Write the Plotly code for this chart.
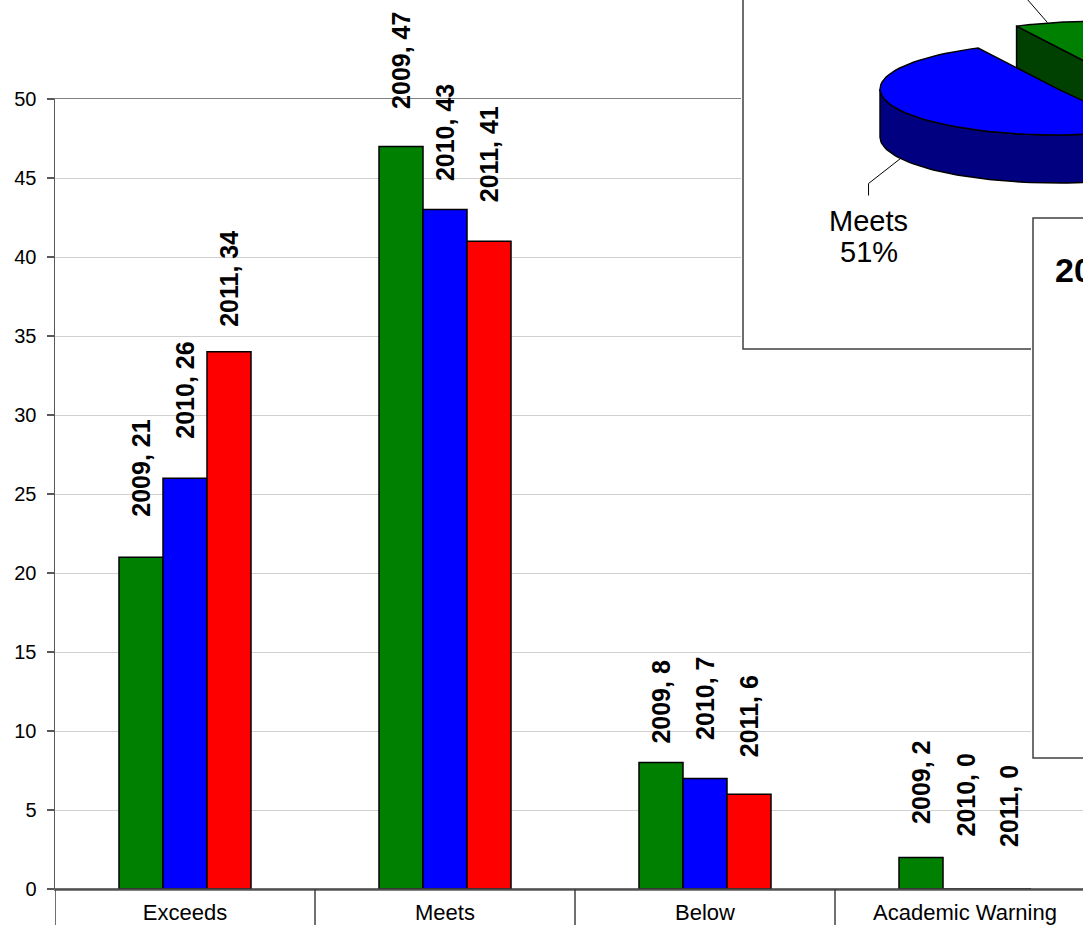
import math
import plotly.graph_objects as go

# ---------------- data ----------------
categories = ["Exceeds", "Meets", "Below", "Academic Warning"]
years = ["2009", "2010", "2011"]
values_2009 = [21, 47, 8, 2]
values_2010 = [26, 43, 7, 0]
values_2011 = [34, 41, 6, 0]
y_tick_values = [0, 5, 10, 15, 20, 25, 30, 35, 40, 45, 50]
pie_values = values_2011          # inset 3-D pie shows the 2011 distribution
inset_title = "2011"

series_values = [values_2009, values_2010, values_2011]

# ---------------- style ----------------
FONT = "Arial, Liberation Sans, sans-serif"
series_colors = ["#008000", "#0000FF", "#FF0000"]
pie_top_colors = ["#FF0000", "#0000FF", "#008000", "#FFFF00"]
pie_side_colors = ["#800000", "#000080", "#004000", "#808000"]
# vertical gap (px) between bar top and its rotated label, per series / category
label_gap_px = [[40, 37, 19, 33], [39, 28, 38, 52], [25, 39, 37, 42]]

W, H = 1083, 925
AXIS_LEFT = 55
AXIS_BOTTOM = 889
PLOT_TOP = 99
ML = AXIS_LEFT
MB = H - AXIS_BOTTOM
CAT_PX = 260
plot_w = W - ML
paper_h = H - MB
x_range = [-0.5, -0.5 + plot_w / CAT_PX]   # last category runs past the right edge (cropped)
bargap = 1 - 132 / CAT_PX
bar_px = (1 - bargap) * CAT_PX / 3


def pxx(px):
    """screen x -> paper x"""
    return (px - ML) / plot_w


def pxy(py):
    """screen y -> paper y"""
    return (paper_h - py) / paper_h


# pie geometry (inset axes use screen pixel units)
PIE_C = (1110, 82)
RX, RY = 178, 46
DEPTH = 48
EXPLODE = 0.33

fig = go.Figure()

# ---------------- bars ----------------
for yr, vals, col in zip(years, series_values, series_colors):
    fig.add_trace(go.Bar(
        x=categories, y=vals, name=yr,
        marker=dict(color=col, line=dict(color="black", width=1.5)),
        hoverinfo="skip", showlegend=False,
    ))

annotations = []
for j, (yr, vals) in enumerate(zip(years, series_values)):
    for i, (cat, v) in enumerate(zip(categories, vals)):
        annotations.append(dict(
            x=cat, y=v, xref="x", yref="y", text=f"{yr}, {v}",
            textangle=-90, showarrow=False, xanchor="center", yanchor="bottom",
            xshift=(j - 1) * bar_px, yshift=label_gap_px[j][i] - 2,
            font=dict(family=FONT, size=25, color="black", weight="bold"),
        ))

# ---------------- 3-D pie inset ----------------
def arc(cx, cy, a, b, dz=0, n=60):
    xs, ys = [], []
    for s in range(n + 1):
        t = math.radians(a + (b - a) * s / n)
        xs.append(cx + RX * math.cos(t))
        ys.append(cy - RY * math.sin(t) + dz)
    return xs, ys


def poly_trace(xs, ys, color):
    return go.Scatter(x=xs + [xs[0]], y=ys + [ys[0]], xaxis="x2", yaxis="y2",
                      mode="lines", fill="toself", fillcolor=color,
                      line=dict(color="black", width=1.5),
                      hoverinfo="skip", showlegend=False)


total = sum(pie_values)
cum = 0
slices = []
for k, v in enumerate(pie_values):
    if v > 0:
        t2 = 90 - 360 * cum / total
        t1 = 90 - 360 * (cum + v) / total
        mid = (t1 + t2) / 2
        mr = math.radians(mid)
        cx = PIE_C[0] + EXPLODE * RX * math.cos(mr)
        cy = PIE_C[1] - EXPLODE * RY * math.sin(mr)
        slices.append(dict(k=k, t1=t1, t2=t2, mid=mid, cx=cx, cy=cy, v=v))
    cum += v

pie_traces = []
for s in sorted(slices, key=lambda d: -math.sin(math.radians(d["mid"]))):
    cx, cy, t1, t2, k = s["cx"], s["cy"], s["t1"], s["t2"], s["k"]
    # radial cut faces facing the viewer
    for t, vis in ((t1, math.cos(math.radians(t1)) > 1e-9),
                   (t2, math.cos(math.radians(t2)) < -1e-9)):
        if vis:
            rx_ = cx + RX * math.cos(math.radians(t))
            ry_ = cy - RY * math.sin(math.radians(t))
            pie_traces.append(poly_trace([cx, rx_, rx_, cx],
                                         [cy, ry_, ry_ + DEPTH, cy + DEPTH],
                                         pie_side_colors[k]))
    # outer wall, front-facing part
    for m in range(-2, 2):
        a = max(t1, 180 + 360 * m)
        b = min(t2, 360 + 360 * m)
        if b > a:
            xt, yt = arc(cx, cy, a, b)
            xb, yb = arc(cx, cy, b, a, DEPTH)
            pie_traces.append(poly_trace(xt + xb, yt + yb, pie_side_colors[k]))
    # top face
    xs, ys = arc(cx, cy, t1, t2)
    pie_traces.append(poly_trace([cx] + xs, [cy] + ys, pie_top_colors[k]))

for tr in pie_traces:
    fig.add_trace(tr)

# leader lines and labels
for s in slices:
    mr = math.radians(s["mid"])
    cat = categories[s["k"]]
    if cat == "Meets":
        ax = s["cx"] + RX * math.cos(mr)
        ay = s["cy"] - RY * math.sin(mr) + DEPTH
        ex, ey = ax - 32, ay + 25
        fig.add_trace(go.Scatter(x=[ax, ex, ex], y=[ay, ey, ey + 12], xaxis="x2", yaxis="y2",
                                 mode="lines", line=dict(color="black", width=1),
                                 hoverinfo="skip", showlegend=False))
        for line_text, dy in ((cat, 25), (f"{round(100 * s['v'] / total)}%", 56)):
            annotations.append(dict(
                x=ex, y=ey + 12 + dy, xref="x2", yref="y2", showarrow=False,
                text=line_text, xanchor="center", yanchor="middle",
                font=dict(family=FONT, size=29, color="black"),
            ))
    elif cat == "Below":
        ax = s["cx"] + RX * math.cos(mr) - 8
        ay = s["cy"] - RY * math.sin(mr)
        fig.add_trace(go.Scatter(x=[ax, ax - 40], y=[ay, ay - 46], xaxis="x2", yaxis="y2",
                                 mode="lines", line=dict(color="black", width=1),
                                 hoverinfo="skip", showlegend=False))

# second inset (box partly outside the picture)
fig.add_trace(go.Scatter(x=[], y=[], xaxis="x3", yaxis="y3", showlegend=False, hoverinfo="skip"))
annotations.append(dict(
    x=1053, y=270, xref="x3", yref="y3", showarrow=False, text=inset_title,
    xanchor="left", yanchor="middle",
    font=dict(family=FONT, size=34, color="black", weight="bold"),
))

# ---------------- shapes ----------------
shapes = []
for b in range(len(categories)):
    shapes.append(dict(type="line", xref="x", yref="paper", x0=b - 0.5, x1=b - 0.5,
                       y0=0, y1=-MB / paper_h, line=dict(color="#404040", width=1.5)))
shapes.append(dict(type="line", xref="paper", yref="paper", x0=0, x1=1, y0=0, y1=0,
                   line=dict(color="#404040", width=1.5)))
shapes.append(dict(type="rect", xref="x2", yref="y2", x0=743, x1=W + 60, y0=-60, y1=349,
                   line=dict(color="#404040", width=1.5), fillcolor="rgba(0,0,0,0)", layer="below"))
shapes.append(dict(type="rect", xref="x3", yref="y3", x0=1033, x1=W + 60, y0=218, y1=758,
                   line=dict(color="#404040", width=1.5), fillcolor="rgba(0,0,0,0)", layer="below"))

fig.update_layout(
    width=W, height=H,
    margin=dict(l=ML, r=0, t=0, b=MB, pad=0, autoexpand=False),
    paper_bgcolor="white", plot_bgcolor="white",
    barmode="group", bargap=bargap, bargroupgap=0,
    showlegend=False,
    font=dict(family=FONT, color="black"),
    annotations=annotations, shapes=shapes,
    xaxis=dict(range=x_range, showgrid=False, showline=True, mirror=True,
               linecolor="#808080", linewidth=1.5, ticks="outside", ticklen=3,
               tickcolor="rgba(0,0,0,0)", tickfont=dict(family=FONT, size=22, color="black"),
               automargin=False, fixedrange=True, zeroline=False),
    yaxis=dict(range=[0, 50], domain=[0, (paper_h - PLOT_TOP) / paper_h],
               tickvals=y_tick_values, showgrid=True, gridcolor="#d0d0d0", gridwidth=1,
               showline=True, linecolor="#595959", linewidth=1.5, ticks="outside",
               ticklen=7, tickwidth=1.5, tickcolor="#595959", ticklabelstandoff=6,
               tickfont=dict(family=FONT, size=20, color="black"),
               automargin=False, fixedrange=True, zeroline=False),
    xaxis2=dict(domain=[pxx(741), 1], range=[741, W], visible=False, anchor="y2", fixedrange=True),
    yaxis2=dict(domain=[pxy(351), 1], range=[351, 0], visible=False, anchor="x2", fixedrange=True),
    xaxis3=dict(domain=[pxx(1031), 1], range=[1031, W], visible=False, anchor="y3", fixedrange=True),
    yaxis3=dict(domain=[pxy(760), pxy(216)], range=[760, 216], visible=False, anchor="x3", fixedrange=True),
)

fig.write_html("out.html",
               config={"displayModeBar": False, "staticPlot": True},
               post_script="document.body.style.margin='0';document.body.style.overflow='hidden';")
